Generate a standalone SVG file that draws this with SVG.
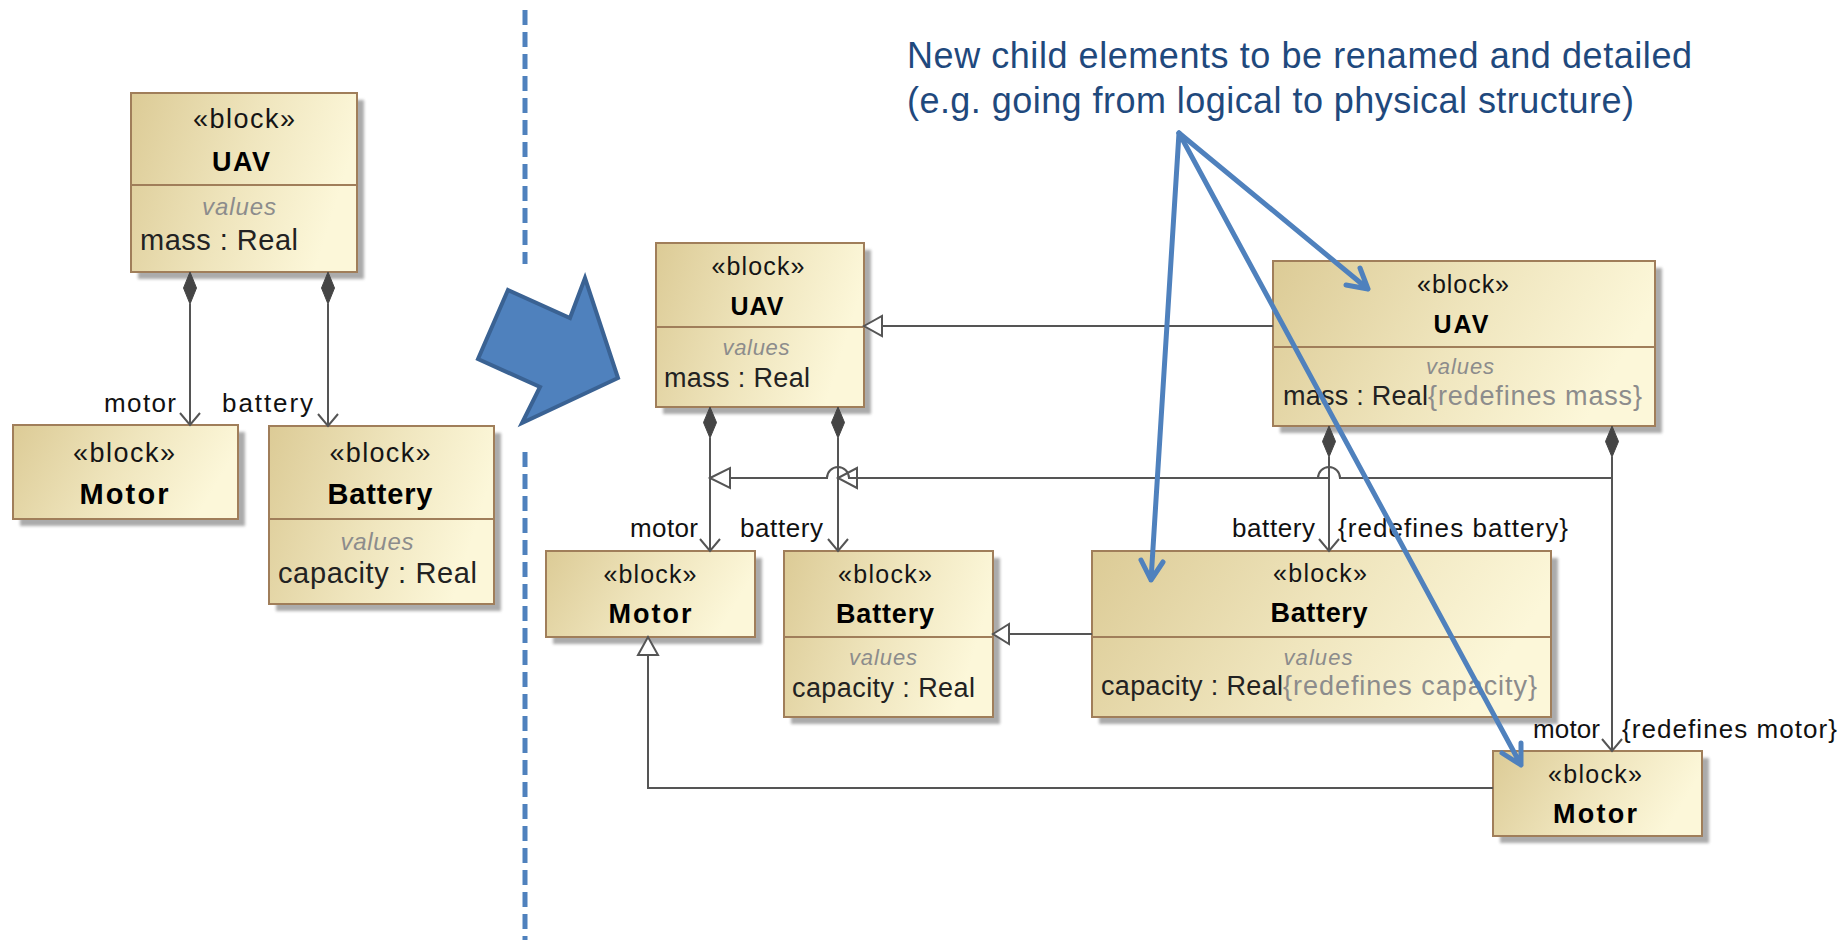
<svg xmlns="http://www.w3.org/2000/svg" width="1843" height="940" viewBox="0 0 1843 940">
  <defs>
    <linearGradient id="tan" x1="0" y1="0" x2="1" y2="0.25">
      <stop offset="0" stop-color="#dccb96"/>
      <stop offset="0.55" stop-color="#efe5bd"/>
      <stop offset="1" stop-color="#fcf7d9"/>
    </linearGradient>
    <filter id="soft" x="-10%" y="-10%" width="120%" height="120%">
      <feGaussianBlur stdDeviation="1.5"/>
    </filter>
    <style>
      .shadow { fill: #ababab; filter: url(#soft); }
      .box { fill: url(#tan); stroke: #a07e5a; stroke-width: 2; }
      .sep { stroke: #a07e5a; stroke-width: 2; }
      text { font-family: "Liberation Sans", Arial, sans-serif; }
      .st { font-size: 25px; fill: #151515; text-anchor: middle; }
      .nm { font-size: 27px; font-weight: bold; fill: #000; text-anchor: middle; }
      .nm.short { font-size: 25px; }
      .vl { font-size: 22px; font-style: italic; fill: #8c8c8c; text-anchor: middle; }
      .at { font-size: 27px; fill: #222; }
      .rd { font-size: 27px; fill: #8c8c8c; }
      .lbl { font-size: 26px; fill: #111; }
      .big .st { font-size: 27px; }
      .big .nm { font-size: 29px; }
      .big .nm.short { font-size: 27px; }
      .big .vl { font-size: 24px; }
      .big .at { font-size: 29px; }
      .conn { stroke: #555; stroke-width: 2; fill: none; }
      .dia { fill: #454545; stroke: #454545; stroke-width: 1; }
      .tri { fill: #fff; stroke: #555; stroke-width: 2; }
      .note { stroke: #4f81bd; stroke-width: 5; fill: none; stroke-linecap: round; stroke-linejoin: round; }
      .title { font-size: 36px; fill: #1f497d; }
    </style>
  </defs>

  <rect width="1843" height="940" fill="#fff"/>

  <!-- separator between the two models -->
  <g id="separator" stroke="#4f81bd" stroke-width="5" stroke-dasharray="15 7" fill="none">
    <line x1="525" y1="10" x2="525" y2="264"/>
    <line x1="525" y1="452" x2="525" y2="940"/>
  </g>

  <!-- transition arrow -->
  <polygon id="transition" points="508,290 570,318 585,278 618,378 522,423 540,387 478,359" fill="#4f81bd" stroke="#3a6293" stroke-width="4" stroke-linejoin="miter"/>

  <!-- logical structure -->
  <g id="uav-logical" class="big">
    <rect class="shadow" x="138" y="100" width="226" height="179"/>
    <rect class="box" x="131" y="93" width="226" height="179"/>
    <line class="sep" x1="131" y1="185" x2="357" y2="185"/>
    <text class="st" x="244" y="128" textLength="102">«block»</text>
    <text class="nm short" x="241" y="171" textLength="58">UAV</text>
    <text class="vl" x="239" y="215" textLength="74">values</text>
    <text class="at" x="140" y="250" textLength="158">mass : Real</text>
  </g>

  <g id="motor-logical" class="big">
    <rect class="shadow" x="20" y="432" width="225" height="94"/>
    <rect class="box" x="13" y="425" width="225" height="94"/>
    <text class="st" x="124" y="462" textLength="102">«block»</text>
    <text class="nm" x="124" y="504" textLength="89">Motor</text>
  </g>

  <g id="battery-logical" class="big">
    <rect class="shadow" x="276" y="433" width="225" height="178"/>
    <rect class="box" x="269" y="426" width="225" height="178"/>
    <line class="sep" x1="269" y1="519" x2="494" y2="519"/>
    <text class="st" x="380" y="462" textLength="101">«block»</text>
    <text class="nm" x="380" y="504" textLength="105">Battery</text>
    <text class="vl" x="377" y="550" textLength="73">values</text>
    <text class="at" x="278" y="583" textLength="199">capacity : Real</text>
  </g>

  <!-- physical structure: parents -->
  <g id="uav-parent">
    <rect class="shadow" x="663" y="250" width="208" height="164"/>
    <rect class="box" x="656" y="243" width="208" height="164"/>
    <line class="sep" x1="656" y1="327" x2="864" y2="327"/>
    <text class="st" x="758" y="275" textLength="93">«block»</text>
    <text class="nm short" x="757" y="315" textLength="53">UAV</text>
    <text class="vl" x="756" y="355" textLength="67">values</text>
    <text class="at" x="664" y="387" textLength="146">mass : Real</text>
  </g>

  <g id="motor-parent">
    <rect class="shadow" x="553" y="558" width="209" height="86"/>
    <rect class="box" x="546" y="551" width="209" height="86"/>
    <text class="st" x="650" y="583" textLength="93">«block»</text>
    <text class="nm" x="650" y="623" textLength="83">Motor</text>
  </g>

  <g id="battery-parent">
    <rect class="shadow" x="791" y="558" width="209" height="166"/>
    <rect class="box" x="784" y="551" width="209" height="166"/>
    <line class="sep" x1="784" y1="637" x2="993" y2="637"/>
    <text class="st" x="885" y="583" textLength="94">«block»</text>
    <text class="nm" x="885" y="623" textLength="98">Battery</text>
    <text class="vl" x="883" y="665" textLength="68">values</text>
    <text class="at" x="792" y="697" textLength="183">capacity : Real</text>
  </g>

  <!-- physical structure: children -->
  <g id="uav-child">
    <rect class="shadow" x="1280" y="268" width="382" height="165"/>
    <rect class="box" x="1273" y="261" width="382" height="165"/>
    <line class="sep" x1="1273" y1="347" x2="1655" y2="347"/>
    <text class="st" x="1463" y="293" textLength="92">«block»</text>
    <text class="nm short" x="1461" y="333" textLength="55">UAV</text>
    <text class="vl" x="1460" y="374" textLength="68">values</text>
    <text class="at" x="1283" y="405" textLength="145">mass : Real</text>
    <text class="rd" x="1428" y="405" textLength="214">{redefines mass}</text>
  </g>

  <g id="battery-child">
    <rect class="shadow" x="1099" y="558" width="459" height="166"/>
    <rect class="box" x="1092" y="551" width="459" height="166"/>
    <line class="sep" x1="1092" y1="637" x2="1551" y2="637"/>
    <text class="st" x="1320" y="582" textLength="94">«block»</text>
    <text class="nm" x="1319" y="622" textLength="97">Battery</text>
    <text class="vl" x="1318" y="665" textLength="69">values</text>
    <text class="at" x="1101" y="695" textLength="182">capacity : Real</text>
    <text class="rd" x="1283" y="695" textLength="254">{redefines capacity}</text>
  </g>

  <g id="motor-child">
    <rect class="shadow" x="1500" y="758" width="209" height="85"/>
    <rect class="box" x="1493" y="751" width="209" height="85"/>
    <text class="st" x="1595" y="783" textLength="94">«block»</text>
    <text class="nm" x="1595" y="823" textLength="84">Motor</text>
  </g>

  <!-- associations and generalizations -->
  <g id="connectors">
    <!-- logical compositions -->
    <polygon class="dia" points="190,272 196.5,288 190,304 183.5,288"/>
    <path class="conn" d="M190,304 V425 M180,413 L190,425 L200,413"/>
    <polygon class="dia" points="328,272 334.5,288 328,304 321.5,288"/>
    <path class="conn" d="M328,304 V426 M318,414 L328,426 L338,414"/>

    <!-- parent compositions -->
    <polygon class="dia" points="710,407 716.5,422.5 710,438 703.5,422.5"/>
    <path class="conn" d="M710,438 V551 M700,539 L710,551 L720,539"/>
    <polygon class="dia" points="838,407 844.5,422.5 838,438 831.5,422.5"/>
    <path class="conn" d="M838,438 V551 M828,539 L838,551 L848,539"/>

    <!-- child compositions -->
    <polygon class="dia" points="1329,426 1335.5,441.5 1329,457 1322.5,441.5"/>
    <path class="conn" d="M1329,457 V551 M1319,539 L1329,551 L1339,539"/>
    <polygon class="dia" points="1612,426 1618.5,441.5 1612,457 1605.5,441.5"/>
    <path class="conn" d="M1612,457 V751 M1602,739 L1612,751 L1622,739"/>

    <!-- block generalizations -->
    <path class="conn" d="M1273,326 H882"/>
    <polygon class="tri" points="864,326 882,316 882,336"/>
    <path class="conn" d="M1092,634 H1009"/>
    <polygon class="tri" points="993,634 1009,624 1009,644"/>
    <path class="conn" d="M1493,788 H648 V655"/>
    <polygon class="tri" points="648,637 638,655 658,655"/>

    <!-- property redefinitions -->
    <path class="conn" d="M1329,478 H857"/>
    <polygon class="tri" points="838,478 857,468 857,488"/>
    <path class="conn" d="M1612,478 H1340 A11,11 0 0 0 1318,478 H849 A11,11 0 0 0 827,478 H730"/>
    <polygon class="tri" points="710,478 730,468 730,488"/>

    <!-- role names -->
    <text class="lbl" x="104" y="412" font-size="28" textLength="72">motor</text>
    <text class="lbl" x="222" y="412" font-size="28" textLength="91">battery</text>
    <text class="lbl" x="630" y="537" textLength="68">motor</text>
    <text class="lbl" x="740" y="537" textLength="83">battery</text>
    <text class="lbl" x="1232" y="537" textLength="83">battery</text>
    <text class="lbl" x="1338" y="537" textLength="230">{redefines battery}</text>
    <text class="lbl" x="1533" y="738" textLength="67">motor</text>
    <text class="lbl" x="1622" y="738" textLength="215">{redefines motor}</text>
  </g>

  <!-- callout -->
  <g id="callout">
    <text class="title" x="907" y="68" textLength="785">New child elements to be renamed and detailed</text>
    <text class="title" x="907" y="113" textLength="727">(e.g. going from logical to physical structure)</text>
    <path class="note" d="M1179,133 L1368,289 M1346,285 L1368,289 L1360,268"/>
    <path class="note" d="M1179,133 L1151,580 M1141,560 L1151,580 L1163,562"/>
    <path class="note" d="M1179,133 L1521,765 M1502,753 L1521,765 L1521,743"/>
  </g>
</svg>
